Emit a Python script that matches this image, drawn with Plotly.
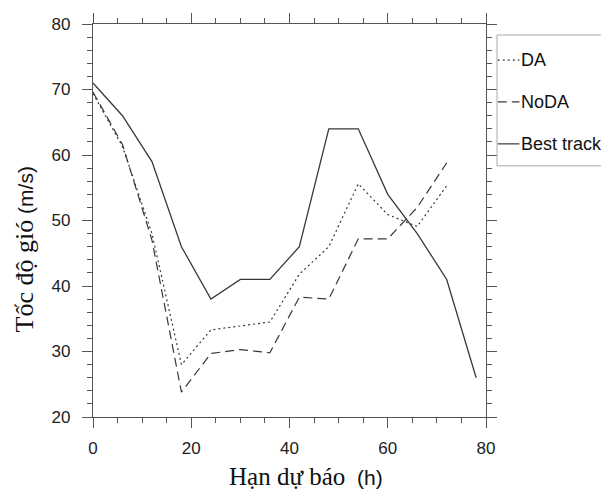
import plotly.graph_objects as go

# Forecast lead times (h)
hours = [0, 6, 12, 18, 24, 30, 36, 42, 48, 54, 60, 66, 72, 78]

# Maximum wind speed (m/s)
da = [69.4, 61.3, 48.0, 28.0, 33.3, 33.9, 34.5, 41.8, 46.0, 55.6, 50.9, 49.1, 55.3]
noda = [69.6, 61.6, 47.0, 23.8, 29.7, 30.3, 29.8, 38.3, 38.0, 47.2, 47.2, 52.0, 58.8]
best_track = [71, 66, 59, 46, 38, 41, 41, 46, 64, 64, 54, 48, 41, 26]

x_ticks = [0, 20, 40, 60, 80]
y_ticks = [20, 30, 40, 50, 60, 70, 80]

LINE = "#383838"
AXIS = "#555555"
SANS = "Liberation Sans, Arial, sans-serif"
SERIF = "Liberation Serif, Times New Roman, serif"

fig = go.Figure()
fig.add_trace(go.Scatter(x=hours[:len(da)], y=da, mode="lines", name="DA",
                         line=dict(color=LINE, width=1.2, dash="2px,3px")))
fig.add_trace(go.Scatter(x=hours[:len(noda)], y=noda, mode="lines", name="NoDA",
                         line=dict(color=LINE, width=1.2, dash="9px,5px")))
fig.add_trace(go.Scatter(x=hours, y=best_track, mode="lines", name="Best track",
                         line=dict(color=LINE, width=1.3)))

axis_common = dict(
    showgrid=False, zeroline=False, showline=True, linecolor=AXIS, linewidth=1.2,
    mirror="ticks", ticks="outside", ticklen=10, tickwidth=1.2, tickcolor=AXIS,
    tickfont=dict(family=SANS, size=17, color="#222222"),
)

fig.update_xaxes(range=[0, 80], tickvals=x_ticks, ticklabelstandoff=5,
                 minor=dict(dtick=5, ticks="outside", ticklen=5, tickwidth=1, tickcolor=AXIS),
                 **axis_common)
fig.update_yaxes(range=[20, 80], tickvals=y_ticks, ticklabelstandoff=8,
                 minor=dict(dtick=2, ticks="outside", ticklen=5, tickwidth=1, tickcolor=AXIS),
                 **axis_common)

# Legend drawn in paper coordinates to the right of the plot
legend_items = [("DA", "2px,3px", 0.908), ("NoDA", "9px,5px", 0.802), ("Best track", "solid", 0.695)]
shapes = [dict(type="rect", xref="paper", yref="paper", x0=1.028, x1=1.32, y0=0.639, y1=0.972,
               line=dict(color="#aaaaaa", width=1), fillcolor="rgba(0,0,0,0)")]
annotations = []
for label, dash, yp in legend_items:
    shapes.append(dict(type="line", xref="paper", yref="paper", x0=1.030, x1=1.085, y0=yp, y1=yp,
                       line=dict(color=LINE, width=1.2, dash=dash)))
    annotations.append(dict(xref="paper", yref="paper", x=1.084, y=yp, text=label, showarrow=False,
                            xanchor="left", yanchor="middle",
                            font=dict(family=SANS, size=18, color="#111111")))

# Axis titles with mixed serif / sans-serif text
annotations.append(dict(xref="paper", yref="paper", x=0.541, y=-0.152, showarrow=False,
                        xanchor="center", yanchor="middle",
                        text=f'<span style="font-family:{SERIF};font-size:25px">Hạn dự báo</span>'
                             f'  <span style="font-family:{SANS};font-size:21px">(h)</span>',
                        font=dict(family=SANS, size=21, color="#111111")))
annotations.append(dict(xref="paper", yref="paper", x=-0.175, y=0.427, showarrow=False,
                        textangle=-90, xanchor="center", yanchor="middle",
                        text=f'<span style="font-family:{SERIF};font-size:26px">Tốc độ gió</span>'
                             f' <span style="font-family:{SANS};font-size:21px">(m/s)</span>',
                        font=dict(family=SANS, size=21, color="#111111")))

fig.update_layout(
    width=601, height=491,
    margin=dict(l=93, r=115, t=24, b=74),
    paper_bgcolor="white", plot_bgcolor="white",
    showlegend=False,
    shapes=shapes, annotations=annotations,
)

fig.write_html("out.html")
